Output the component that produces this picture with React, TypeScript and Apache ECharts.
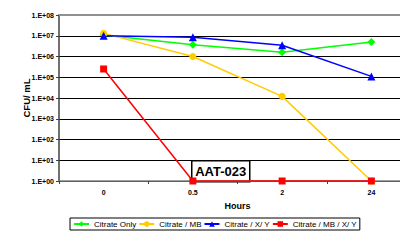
import React, { useEffect, useRef } from "react";
import * as echarts from "echarts";

const categories = ["0", "0.5", "2", "24"];
const citrateOnly = [1.1e7, 3.7e6, 1.6e6, 5e6];
const citrateMB = [1.3e7, 1e6, 1.2e4, 1];
const citrateXY = [1e7, 8.5e6, 3.5e6, 1.1e5];
const citrateMBXY = [2.5e5, 1, 1, 1];
const seriesNames = ["Citrate Only", "Citrate / MB", "Citrate / X/ Y", "Citrate / MB / X/ Y"];
const boxLabel = "AAT-023";

const FONT = "'Liberation Sans', Arial, sans-serif";

export default function App() {
  const ref = useRef<HTMLDivElement>(null);
  useEffect(() => {
    if (!ref.current) return;
    const chart = echarts.init(ref.current, null, { renderer: "svg" });
    const mk = (name: string, data: number[], color: string, symbol: string, size: number) => ({
      name,
      type: "line",
      data,
      symbol,
      symbolSize: size,
      clip: false,
      lineStyle: { color, width: 1.5 },
      itemStyle: { color },
    });
    chart.setOption({
      animation: false,
      backgroundColor: "#fff",
      textStyle: { fontFamily: FONT },
      grid: { left: 59, right: 0, top: 15, bottom: 60 },
      xAxis: [
        {
          type: "category",
          data: categories,
          boundaryGap: true,
          name: "Hours",
          nameLocation: "middle",
          nameGap: 20,
          nameMoveOverlap: false,
          nameTextStyle: { fontFamily: FONT, fontWeight: "bold", fontSize: 9, color: "#000" },
          axisLine: { lineStyle: { color: "#808080", width: 1.5 } },
          axisTick: { show: true, length: 3, inside: false, lineStyle: { color: "#404040" } },
          axisLabel: { fontFamily: FONT, fontWeight: "bold", fontSize: 7, color: "#000", margin: 8 },
          splitLine: { show: false },
        },
        {
          type: "category",
          data: categories,
          position: "top",
          axisLine: { lineStyle: { color: "#909090", width: 2 } },
          axisTick: { show: false },
          axisLabel: { show: false },
        },
      ],
      yAxis: {
        type: "log",
        logBase: 10,
        min: 1,
        max: 1e8,
        name: "CFU/ mL",
        nameLocation: "middle",
        nameGap: 28,
        nameMoveOverlap: false,
        nameRotate: 90,
        nameTextStyle: { fontFamily: FONT, fontWeight: "bold", fontSize: 9.5, color: "#000" },
        axisLine: { show: true, lineStyle: { color: "#404040", width: 1.5 } },
        axisTick: { show: true, length: 3, lineStyle: { color: "#404040" } },
        axisLabel: {
          fontFamily: FONT,
          fontWeight: "bold",
          fontSize: 7,
          color: "#000",
          margin: 5,
          formatter: (v: number) => {
            const e = Math.round(Math.log10(v));
            return "1.E+" + (e < 10 ? "0" : "") + e;
          },
        },
        splitLine: { show: true, lineStyle: { color: "#000", width: 1 } },
        minorTick: { show: false },
      },
      legend: {
        left: 70,
        top: 218,
        data: seriesNames,
        itemWidth: 15,
        itemHeight: 7,
        itemGap: 2,
        padding: [2, 3],
        borderColor: "#000",
        borderWidth: 1,
        backgroundColor: "#fff",
        textStyle: { fontFamily: FONT, fontSize: 8, color: "#000" },
      },
      series: [
        mk(seriesNames[0], citrateOnly, "#00FF00", "diamond", 8),
        mk(seriesNames[1], citrateMB, "#FFCC00", "circle", 7),
        mk(seriesNames[2], citrateXY, "#0000FF", "triangle", 8),
        mk(seriesNames[3], citrateMBXY, "#FF0000", "rect", 7),
      ],
      graphic: [
        {
          type: "group",
          left: 191,
          top: 160,
          children: [
            {
              type: "rect",
              shape: { x: 0, y: 0, width: 58, height: 21 },
              style: { fill: "#fff", stroke: "#000", lineWidth: 1.5 },
            },
            {
              type: "text",
              x: 29,
              y: 10.5,
              style: {
                text: boxLabel,
                fill: "#000",
                font: "bold 13px " + FONT,
                align: "center",
                verticalAlign: "middle",
              },
            },
          ],
        },
      ],
    });
    return () => chart.dispose();
  }, []);
  return (
    <div style={{ position: "fixed", left: 0, top: 0, width: 400, height: 241, overflow: "hidden", background: "#fff" }}>
      <div ref={ref} style={{ width: 416, height: 241 }} />
    </div>
  );
}
